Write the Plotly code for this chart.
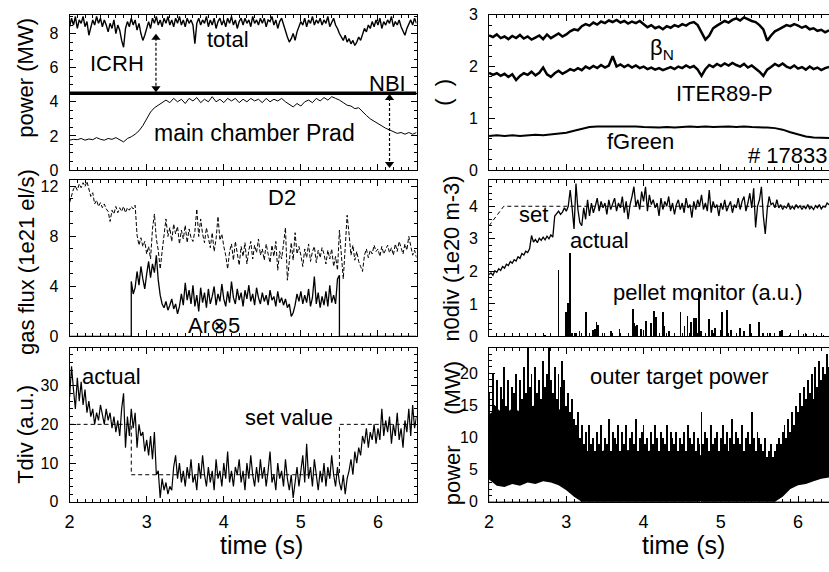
import numpy as np
import plotly.graph_objects as go

# ---------------- data ----------------
DT_FINE = 0.025
DT_MID = 0.05
DT_COARSE = 0.1
T_START = 2.0

# top-left: heating / radiated power (MW)
total_power = [8.4, 8.9, 8.5, 9.0, 8.3, 8.8, 8.6, 9.0, 8.4, 8.7,
               7.9, 8.3, 8.8, 8.5, 9.0, 8.6, 8.9, 8.4, 8.8, 8.5,
               8.1, 8.6, 8.3, 8.8, 8.0, 8.5, 8.2, 7.6, 7.2, 8.3,
               8.7, 8.4, 8.9, 8.5, 8.8, 8.2, 8.6, 8.0, 7.6, 7.9,
               8.4, 8.7, 8.3, 8.9, 8.6, 9.0, 8.5, 8.8, 8.4, 8.9,
               8.6, 9.0, 8.5, 8.8, 8.4, 8.9, 8.6, 9.0, 8.5, 8.8,
               8.4, 8.9, 8.6, 8.8, 8.5, 7.4, 8.6, 8.9, 8.5, 8.8,
               8.6, 9.0, 8.4, 8.8, 8.5, 8.9, 8.3, 8.7, 8.9, 8.5,
               8.8, 8.4, 8.9, 8.6, 9.0, 8.5, 8.8, 8.3, 8.7, 8.9,
               8.5, 8.9, 8.6, 8.8, 8.4, 9.0, 8.6, 8.8, 8.5, 8.9,
               8.6, 8.9, 8.4, 8.8, 8.7, 9.0, 8.5, 8.8, 8.3, 8.7,
               8.9, 8.5, 8.2, 7.8, 7.5, 7.7, 8.0, 7.6, 8.1, 8.4,
               8.7, 8.5, 8.9, 8.4, 8.8, 8.6, 9.0, 8.5, 8.8, 8.6,
               8.9, 8.5, 8.8, 8.6, 9.0, 8.4, 8.7, 8.9, 8.5, 8.3,
               8.0, 7.8, 7.6, 7.9, 7.5, 7.7, 7.4, 7.6, 7.3, 7.5,
               7.8, 7.6, 8.0, 8.3, 8.1, 8.5, 8.3, 8.7, 8.4, 8.8,
               8.5, 8.9, 8.3, 8.7, 8.5, 8.8, 8.6, 9.0, 8.4, 8.7,
               8.5, 8.8, 8.4, 8.1, 7.9, 8.3, 8.6, 8.8, 8.5, 8.9,
               8.6]
nbi_time = [2.0, 6.5]
nbi_power = [4.5, 4.5]
prad_main = [1.75, 1.80, 1.78, 1.85, 1.75, 1.82, 1.78, 1.90, 1.80, 1.75,
             1.85, 1.80, 1.90, 1.75, 1.65, 1.85, 1.95, 2.10, 2.30, 2.60,
             3.00, 3.40, 3.65, 3.80, 3.95, 4.10, 3.95, 4.20, 4.00, 4.15,
             3.90, 4.20, 4.05, 4.25, 3.95, 4.15, 4.00, 4.30, 4.00, 4.15,
             3.95, 4.20, 4.05, 4.20, 3.95, 4.15, 4.00, 4.20, 4.05, 4.15,
             3.95, 4.20, 4.00, 4.15, 4.05, 4.20, 4.00, 3.85, 3.70, 3.90,
             3.75, 4.00, 4.10, 3.95, 4.20, 4.05, 4.25, 4.10, 4.30, 4.20,
             4.10, 3.95, 3.80, 3.75, 3.60, 3.65, 3.40, 3.20, 3.00, 2.85,
             2.70, 2.55, 2.45, 2.35, 2.25, 2.15, 2.20, 2.10, 2.20, 2.10,
             2.20]
# arrow marks: time, upper end, lower end
icrh_arrow = dict(t=3.12, top=7.75, bottom=4.8)
nbi_arrow = dict(t=6.15, top=4.22, bottom=0.35)

# middle-left: gas flux (1e21 el/s)
d2_flux = [10.7, 11.3, 11.8, 12.0, 11.7, 12.2, 11.9, 12.3, 12.0, 12.4,
           11.8, 11.2, 11.5, 10.6, 10.9, 10.4, 10.7, 10.3, 10.6, 10.2,
           10.0, 9.2, 10.1, 9.8, 10.4, 9.9, 10.3, 10.0, 10.4, 9.9,
           10.3, 10.1, 10.4, 10.2, 10.5, 8.1, 7.3, 7.9, 7.2, 7.6,
           6.6, 7.2, 6.2, 8.6, 9.8, 7.8, 6.9, 5.4, 6.8, 8.4,
           9.4, 8.0, 8.7, 7.6, 9.0, 8.2, 8.8, 7.4, 8.5, 7.8,
           8.9, 7.5, 8.6, 7.9, 7.6, 8.4, 10.2, 8.0, 9.4, 8.2,
           7.5, 8.7, 8.0, 7.1, 8.3, 6.8, 7.8, 9.6, 7.7, 8.2,
           7.2, 6.5, 5.4, 6.8, 7.4, 6.1, 7.6, 6.6, 5.7, 7.2,
           6.4, 7.5, 5.8, 6.9, 7.6, 6.2, 7.3, 6.7, 7.8, 6.5,
           7.0, 6.1, 7.4, 6.6, 5.9, 7.3, 6.4, 7.6, 5.3, 6.8,
           6.2, 7.4, 8.7, 4.5, 6.3, 7.5, 6.1, 8.3, 6.6, 7.2,
           6.5, 5.6, 7.0, 6.3, 7.4, 6.0, 6.8, 7.2, 5.9, 6.9,
           6.3, 7.1, 6.6, 5.8, 6.9, 6.2, 7.0, 5.6, 6.4, 5.3,
           8.5, 6.2, 4.6, 7.1, 9.7, 8.2, 6.5, 7.3, 6.1, 6.8,
           6.0, 5.6, 5.2, 6.5, 7.0, 6.3, 6.9, 6.6, 7.3, 6.8,
           7.0, 6.4, 7.2, 6.6, 6.9, 7.3, 6.7, 7.1, 6.5, 7.4,
           6.8, 7.6, 7.1, 6.6, 7.4, 6.9, 8.0, 7.3, 6.5, 6.9,
           6.3]
ar_on_time = 2.8
ar_off_time = 5.5
ar_flux_x5 = [4.4, 3.4, 3.9, 5.2, 4.1, 5.6, 4.6, 3.8, 5.0, 6.0,
              4.7, 5.8, 5.1, 6.5, 4.5, 3.3, 2.6, 2.3, 2.8, 2.1,
              2.5, 3.0, 2.2, 2.6, 1.8, 2.4, 3.4, 2.5, 4.3, 2.9,
              3.7, 2.6, 4.1, 2.4, 3.3, 2.0, 3.9, 2.7, 3.5, 2.3,
              3.8, 2.6, 3.2, 4.0, 2.5, 3.4, 2.8, 4.2, 3.0, 2.4,
              3.6, 2.7, 4.4, 3.1, 2.6, 3.8, 2.9, 3.5, 2.4, 3.7,
              3.0, 4.1, 2.8, 3.4, 2.5, 3.9, 3.1, 2.6, 3.5, 2.8,
              3.3, 2.5, 3.7, 2.9, 3.2, 2.4, 3.6, 2.7, 3.1, 2.5,
              3.0, 2.3, 2.6, 1.6, 1.9, 2.5, 3.4, 2.8, 3.6, 2.6,
              3.3, 2.7, 3.8, 2.4, 3.1, 4.8, 2.6, 3.5, 2.3, 3.2,
              2.5, 3.6, 2.4, 4.1, 2.7, 3.3, 2.6, 4.6,
              4.9]

# bottom-left: Tdiv (a.u.)
tdiv_actual = [27, 35, 29, 24, 32, 26, 31, 25, 29, 23,
               26, 22, 24, 20, 23, 21, 25, 22, 20, 24,
               21, 23, 19, 22, 18, 21, 17, 24, 28, 14,
               22, 17, 24, 19, 23, 14, 20, 17, 18, 13,
               16, 12, 17, 11, 18, 7, 8, 1, 6, 3,
               5, 2, 4, 3, 9, 12, 6, 10, 5, 8,
               4, 9, 6, 11, 5, 7, 3, 10, 6, 12,
               7, 4, 9, 5, 8, 3, 11, 6, 8, 4,
               10, 6, 13, 5, 8, 4, 9, 7, 11, 5,
               8, 3, 10, 6, 12, 7, 4, 9, 5, 11,
               6, 9, 4, 8, 13, 5, 7, 3, 10, 6,
               8, 4, 11, 6, 3, 7, 1, 5, 9, 4,
               8, 12, 5, 15, 6, 9, 4, 11, 7, 3,
               8, 5, 10, 4, 9, 6, 12, 7, 4, 9,
               5, 3, 7, 2, 6, 8, 11, 7, 13, 10,
               14, 12, 17, 15, 19, 14, 18, 16, 20, 15,
               19, 16, 24, 17, 21, 18, 22, 15, 20, 17,
               23, 16, 19, 14, 21, 18, 24, 17, 25, 19,
               22]
tdiv_set_time = [2.0, 2.8, 2.8, 5.5, 5.5, 6.5]
tdiv_set = [20, 20, 7, 7, 20, 20]

# top-right: dimensionless quantities
beta_n = [2.60, 2.57, 2.62, 2.55, 2.58, 2.53, 2.59, 2.55, 2.61, 2.54,
          2.58, 2.52, 2.56, 2.60, 2.53, 2.62, 2.55, 2.59, 2.64, 2.58,
          2.62, 2.68, 2.72, 2.70, 2.78, 2.82, 2.79, 2.85, 2.81, 2.87,
          2.84, 2.89, 2.86, 2.90, 2.85, 2.88, 2.83, 2.87, 2.84, 2.88,
          2.82, 2.76, 2.80, 2.74, 2.77, 2.72, 2.78, 2.75, 2.80, 2.77,
          2.82, 2.79, 2.84, 2.86, 2.80, 2.65, 2.52, 2.60, 2.74, 2.79,
          2.84, 2.88, 2.85, 2.90, 2.93, 2.89, 2.95, 2.91, 2.88, 2.86,
          2.80, 2.72, 2.50, 2.60, 2.68, 2.72, 2.76, 2.80, 2.78, 2.82,
          2.79, 2.75, 2.78, 2.72, 2.74, 2.69, 2.71, 2.66, 2.70]
iter89p = [1.88, 1.84, 1.87, 1.82, 1.86, 1.80, 1.85, 1.74, 1.82, 1.87,
           1.84, 1.90, 1.83, 1.88, 1.98, 1.85, 1.80, 1.87, 1.92, 1.86,
           1.90, 1.95, 1.92, 1.97, 1.93, 2.00, 1.96, 2.01, 1.97, 2.03,
           1.98, 2.02, 2.20, 2.00, 2.04, 1.99, 2.03, 1.98, 2.02, 1.97,
           2.00, 1.95, 1.98, 1.94, 1.97, 1.93, 1.96, 1.99, 1.95, 2.00,
           1.97, 2.02, 1.98, 2.01, 1.94, 1.82, 1.95, 2.03, 1.99, 2.05,
           2.01, 2.06, 2.02, 2.07, 2.03, 2.00, 2.05, 1.98, 2.02, 1.96,
           1.90, 1.82, 1.94, 1.99, 2.05, 2.01, 2.06, 2.00, 1.97, 2.02,
           1.96, 1.99, 1.94, 2.00, 1.95, 1.98, 1.93, 1.97, 1.99]
f_green = [0.66, 0.67, 0.66, 0.67, 0.66, 0.67, 0.68, 0.67, 0.69, 0.70,
           0.72, 0.76, 0.80, 0.83, 0.84, 0.84, 0.85, 0.84, 0.85, 0.84,
           0.83, 0.82, 0.82, 0.83, 0.82, 0.83, 0.84, 0.83, 0.84, 0.83,
           0.84, 0.84, 0.83, 0.84, 0.83, 0.83, 0.82, 0.81, 0.78, 0.73,
           0.69, 0.65, 0.63, 0.62, 0.62]

# middle-right: divertor neutral density (1e20 m-3) and pellet monitor
n0div_actual = [1.90, 1.95, 1.88, 2.02, 1.97, 2.08, 2.03, 2.15, 2.10, 2.22,
                2.18, 2.30, 2.25, 2.36, 2.32, 2.45, 2.40, 2.55, 2.50, 2.62,
                2.58, 2.70, 3.10, 2.90, 2.98, 2.88, 3.02, 2.95, 3.05, 2.97,
                3.08, 3.00, 3.12, 3.05, 3.70, 3.78, 3.85, 3.75, 3.82, 3.95,
                3.85, 4.00, 4.50, 3.95, 3.30, 4.70, 3.90, 3.50, 3.40, 3.95,
                3.60, 4.20, 3.70, 4.10, 3.80, 4.00, 4.25, 3.85, 4.15, 3.95,
                4.10, 3.75, 4.20, 3.90, 4.05, 4.25, 3.85, 4.10, 3.95, 4.30,
                3.80, 4.15, 3.60, 4.05, 4.30, 4.60, 4.00, 4.20, 3.90, 4.45,
                4.15, 4.60, 3.85, 4.35, 4.05, 4.20, 3.95, 4.10, 3.70, 4.25,
                3.90, 4.15, 4.00, 4.30, 3.85, 4.10, 3.75, 4.05, 4.20, 3.90,
                4.10, 3.80, 4.25, 3.95, 4.05, 3.65, 4.15, 3.90, 4.20, 4.00,
                4.35, 3.90, 4.10, 3.85, 4.50, 3.80, 4.15, 3.95, 4.05, 3.70,
                4.10, 3.90, 4.20, 3.85, 4.00, 4.15, 3.80, 4.05, 3.95, 4.25,
                3.90, 4.15, 4.30, 3.85, 4.10, 4.40, 3.95, 4.55, 3.35, 4.00,
                4.20, 4.60, 3.70, 3.15, 3.90, 4.30, 4.05, 4.10, 3.95, 4.20,
                3.95, 4.05, 3.90, 4.00, 3.95, 4.10, 3.90, 4.00, 3.92, 4.05,
                3.95, 4.02, 3.90, 4.00, 3.93, 4.05, 3.92, 3.98, 3.90, 4.02,
                3.95, 4.05, 3.92, 4.00, 3.97, 4.10, 4.05]
n0div_set_time = [2.0, 2.19, 6.4]
n0div_set = [3.4, 4.0, 4.0]
pellet_time = [2.72, 2.90, 3.00, 3.02, 3.05, 3.07, 3.13, 3.17, 3.26, 3.35,
               3.37, 3.39, 3.41, 3.47, 3.58, 3.69, 3.86, 3.88, 3.90, 3.92,
               3.97, 4.03, 4.10, 4.14, 4.16, 4.25, 4.27, 4.33, 4.40, 4.48,
               4.53, 4.57, 4.61, 4.65, 4.68, 4.72, 4.74, 4.85, 4.89, 4.93,
               5.02, 5.08, 5.13, 5.25, 5.30, 5.38, 5.49, 5.55, 5.64, 5.77,
               5.79, 5.90, 6.07, 6.11, 6.24, 6.33]
pellet_signal = [0.05, 2.02, 0.73, 1.02, 2.57, 0.10, 0.10, 0.15, 0.75, 0.20,
                 0.23, 0.43, 0.33, 0.10, 0.15, 0.23, 0.83, 0.40, 0.30, 0.35,
                 0.23, 0.48, 0.40, 0.78, 0.60, 0.73, 0.30, 0.15, 0.05, 0.73,
                 0.30, 0.63, 0.45, 0.55, 0.55, 1.35, 0.15, 0.53, 0.20, 0.25,
                 0.73, 0.80, 0.20, 0.25, 0.15, 0.38, 0.43, 0.10, 0.10, 0.15,
                 0.20, 0.05, 0.08, 0.08, 0.05, 0.04]

# bottom-right: outer target power (MW)
# spike tops (fine time base), dense body level and lower edge (coarse time base)
target_spikes = [17, 13, 20, 15, 19, 14, 18, 16, 21, 15,
                 19, 14, 18, 17, 20, 13, 19, 16, 21, 17,
                 24, 18, 20, 15, 21, 17, 19, 16, 22, 18,
                 20, 24, 19, 17, 21, 16, 20, 18, 22, 19,
                 15, 17, 14, 16, 13, 12, 14, 10, 12, 9,
                 11, 8, 12, 9, 10, 8, 11, 9, 12, 8,
                 10, 9, 13, 8, 11, 10, 9, 12, 8, 11,
                 9, 12, 8, 10, 11, 9, 13, 8, 10, 11,
                 12, 9, 10, 8, 11, 9, 12, 10, 8, 11,
                 10, 9, 12, 8, 11, 10, 9, 11, 8, 10,
                 9, 11, 8, 12, 10, 9, 11, 8, 10, 9,
                 14, 9, 11, 10, 8, 12, 9, 10, 11, 8,
                 10, 12, 9, 11, 8, 10, 13, 9, 11, 10,
                 9, 12, 8, 10, 11, 9, 14, 10, 8, 11,
                 10, 9, 8, 10, 7, 8, 9, 7, 8, 9,
                 10, 9, 11, 12, 10, 13, 11, 14, 12, 15,
                 14, 17, 15, 18, 16, 19, 17, 20, 16, 21,
                 18, 22, 19, 21, 20, 23, 21]
target_body = [13.5, 14.5, 13.5, 14.5, 14.0, 14.5, 15.0, 14.5, 15.5, 14.5,
               12.5, 10.5, 8.0, 7.5, 7.5, 8.0, 7.5, 7.5, 8.0, 7.5,
               7.5, 8.0, 7.5, 7.0, 7.5, 7.0, 7.5, 7.0, 7.5, 7.0,
               7.5, 7.0, 7.5, 7.0, 7.0, 6.5, 6.0, 6.0, 7.5, 9.5,
               11.5, 12.5, 13.5, 14.5, 15.0]
target_lower = [3.5, 2.5, 2.3, 2.8, 2.5, 3.0, 2.8, 3.2, 3.0, 2.6,
                1.8, 0.8, 0.0, 0.0, 0.0, 0.0, 0.0, 0.0, 0.0, 0.0,
                0.0, 0.0, 0.0, 0.0, 0.0, 0.0, 0.0, 0.0, 0.0, 0.0,
                0.0, 0.0, 0.0, 0.0, 0.0, 0.0, 0.0, 0.0, 0.8, 2.0,
                2.6, 2.8, 3.2, 3.6, 3.8]


def tbase(values, dt, t0=T_START):
    return np.round(t0 + dt * np.arange(len(values)), 4)


FONT = "Liberation Sans, Arial, Helvetica, sans-serif"
BLACK = "black"

fig = go.Figure()

# ---- top-left
fig.add_trace(go.Scatter(x=tbase(total_power, DT_FINE), y=total_power, mode="lines",
                         line=dict(color=BLACK, width=1.4), xaxis="x", yaxis="y"))
fig.add_trace(go.Scatter(x=nbi_time, y=nbi_power, mode="lines",
                         line=dict(color=BLACK, width=3.5), xaxis="x", yaxis="y"))
fig.add_trace(go.Scatter(x=tbase(prad_main, DT_MID), y=prad_main, mode="lines",
                         line=dict(color=BLACK, width=1), xaxis="x", yaxis="y"))

# ---- middle-left
fig.add_trace(go.Scatter(x=tbase(d2_flux, DT_FINE), y=d2_flux, mode="lines",
                         line=dict(color=BLACK, width=1, dash="4px,2px"), xaxis="x2", yaxis="y2"))
ar_t = list(tbase(ar_flux_x5, DT_FINE, ar_on_time))
ar_x = [T_START, ar_on_time] + ar_t + [ar_off_time, 6.5]
ar_y = [0, 0] + ar_flux_x5 + [0, 0]
fig.add_trace(go.Scatter(x=ar_x, y=ar_y, mode="lines",
                         line=dict(color=BLACK, width=1.3), xaxis="x2", yaxis="y2"))

# ---- bottom-left
fig.add_trace(go.Scatter(x=tdiv_set_time, y=tdiv_set, mode="lines",
                         line=dict(color=BLACK, width=1, dash="4px,3px"), xaxis="x3", yaxis="y3"))
fig.add_trace(go.Scatter(x=tbase(tdiv_actual, DT_FINE), y=tdiv_actual, mode="lines",
                         line=dict(color=BLACK, width=1.2), xaxis="x3", yaxis="y3"))

# ---- top-right
fig.add_trace(go.Scatter(x=tbase(beta_n, DT_MID), y=beta_n, mode="lines",
                         line=dict(color=BLACK, width=2.5), xaxis="x4", yaxis="y4"))
fig.add_trace(go.Scatter(x=tbase(iter89p, DT_MID), y=iter89p, mode="lines",
                         line=dict(color=BLACK, width=2.5), xaxis="x4", yaxis="y4"))
fig.add_trace(go.Scatter(x=tbase(f_green, DT_COARSE), y=f_green, mode="lines",
                         line=dict(color=BLACK, width=2), xaxis="x4", yaxis="y4"))

# ---- middle-right
fig.add_trace(go.Bar(x=pellet_time, y=pellet_signal, width=0.01,
                     marker=dict(color=BLACK, line=dict(width=0)), xaxis="x5", yaxis="y5"))
fig.add_trace(go.Scatter(x=n0div_set_time, y=n0div_set, mode="lines",
                         line=dict(color=BLACK, width=1, dash="4px,3px"), xaxis="x5", yaxis="y5"))
fig.add_trace(go.Scatter(x=tbase(n0div_actual, DT_FINE), y=n0div_actual, mode="lines",
                         line=dict(color=BLACK, width=1.3), xaxis="x5", yaxis="y5"))

# ---- bottom-right
fig.add_trace(go.Bar(x=tbase(target_spikes, DT_FINE), y=target_spikes, width=0.012,
                     marker=dict(color=BLACK, line=dict(width=0)), xaxis="x6", yaxis="y6"))
fig.add_trace(go.Scatter(x=tbase(target_body, DT_COARSE), y=target_body, mode="lines",
                         fill="tozeroy", fillcolor=BLACK,
                         line=dict(color=BLACK, width=1), xaxis="x6", yaxis="y6"))
fig.add_trace(go.Scatter(x=tbase(target_lower, DT_COARSE), y=target_lower, mode="lines",
                         fill="tozeroy", fillcolor="white",
                         line=dict(color="white", width=0), xaxis="x6", yaxis="y6"))

# ---------------- axes ----------------
W, H = 829, 572
LEFT = [65 / W, 414 / W]
RIGHT = [487 / W, 1.0]
ROWS = [[1 - 167 / H, 1 - 7 / H], [1 - 338.5 / H, 1 - 177.5 / H], [1 - 509 / H, 1 - 350 / H]]


def xax(domain, rng, anchor, labels):
    return dict(domain=domain, range=rng, anchor=anchor, showline=True, linecolor=BLACK,
                linewidth=1, mirror="ticks", ticks="inside", ticklen=6, tickwidth=1,
                tickcolor=BLACK, tick0=2, dtick=1, showgrid=False, zeroline=False,
                showticklabels=labels, tickfont=dict(size=18, color=BLACK),
                ticklabelstandoff=4, layer="above traces",
                minor=dict(dtick=0.1, ticks="inside", ticklen=3, tickcolor=BLACK, showgrid=False))


def yax(domain, rng, anchor, dtick, minor, mirror=True):
    return dict(domain=domain, range=rng, anchor=anchor, showline=True, linecolor=BLACK,
                linewidth=1, mirror="ticks" if mirror else False, ticks="inside", ticklen=6,
                tickwidth=1, tickcolor=BLACK, tick0=0, dtick=dtick, showgrid=False,
                zeroline=False, tickfont=dict(size=16, color=BLACK), ticklabelstandoff=7,
                layer="above traces",
                minor=dict(dtick=minor, ticks="inside", ticklen=3, tickcolor=BLACK, showgrid=False))


layout = dict(
    width=W, height=H, margin=dict(l=0, r=0, t=0, b=0), autosize=False,
    paper_bgcolor="white", plot_bgcolor="white", showlegend=False,
    font=dict(family=FONT, color=BLACK),
    bargap=0,
    xaxis=xax(LEFT, [2, 6.5], "y", False),
    xaxis2=xax(LEFT, [2, 6.5], "y2", False),
    xaxis3=xax(LEFT, [2, 6.5], "y3", True),
    xaxis4=xax(RIGHT, [2, 6.4], "y4", False),
    xaxis5=xax(RIGHT, [2, 6.4], "y5", False),
    xaxis6=xax(RIGHT, [2, 6.4], "y6", True),
    yaxis=yax(ROWS[0], [0, 9.1], "x", 2, 0.5),
    yaxis2=yax(ROWS[1], [0, 12.5], "x2", 4, 1),
    yaxis3=yax(ROWS[2], [0, 39.8], "x3", 10, 2),
    yaxis4=yax(ROWS[0], [0, 3.0], "x4", 1, 0.2, mirror=False),
    yaxis5=yax(ROWS[1], [0, 4.8], "x5", 1, 0.2, mirror=False),
    yaxis6=yax(ROWS[2], [0, 24], "x6", 5, 1, mirror=False),
)
fig.update_layout(**layout)

# ---------------- labels ----------------
LBL = 22


def label(text, x, y, xref, yref, xanchor="center", size=LBL):
    fig.add_annotation(text=text, x=x, y=y, xref=xref, yref=yref, showarrow=False,
                       xanchor=xanchor, yanchor="middle", font=dict(size=size, color=BLACK))


label("total", 4.06, 7.66, "x", "y")
label("ICRH", 2.62, 6.24, "x", "y")
label("NBI", 6.13, 5.1, "x", "y")
label("main chamber Prad", 4.40, 2.2, "x", "y", size=23)
label("D2", 4.75, 11.1, "x2", "y2")
label("Ar\u22975", 3.87, 0.9, "x2", "y2")
label("actual", 2.54, 32.3, "x3", "y3")
label("set value", 4.84, 21.8, "x3", "y3")
label("\u03b2<sub>N</sub>", 4.24, 2.33, "x4", "y4")
label("ITER89-P", 5.05, 1.48, "x4", "y4")
label("fGreen", 3.96, 0.56, "x4", "y4")
label("# 17833", 5.32, 0.28, "x4", "y4", xanchor="left")
label("set", 2.58, 3.75, "x5", "y5")
label("actual", 3.43, 2.94, "x5", "y5")
label("pellet monitor (a.u.)", 4.84, 1.36, "x5", "y5")
label("outer target power", 4.46, 19.5, "x6", "y6")

# dashed double-headed arrows (ICRH, NBI)
for arr in (icrh_arrow, nbi_arrow):
    fig.add_trace(go.Scatter(x=[arr["t"], arr["t"]], y=[arr["top"], arr["bottom"]],
                             mode="lines", line=dict(color=BLACK, width=1.2, dash="3px,2px"),
                             xaxis="x", yaxis="y"))
    fig.add_trace(go.Scatter(x=[arr["t"], arr["t"]], y=[arr["top"], arr["bottom"]],
                             mode="markers",
                             marker=dict(symbol=["triangle-up", "triangle-down"], size=8,
                                         color=BLACK, line=dict(width=0)),
                             xaxis="x", yaxis="y"))

# axis titles
TITLE = 22


def ytitle(text, xpx, ypx):
    fig.add_annotation(text=text, x=xpx / W, y=1 - ypx / H, xref="paper", yref="paper",
                       showarrow=False, textangle=-90, xanchor="center", yanchor="middle",
                       font=dict(size=TITLE, color=BLACK))


ytitle("power (MW)", 21, 72)
ytitle("gas flux (1e21 el/s)", 21, 262)
ytitle("Tdiv (a.u.)", 21, 439)
ytitle("(\u00a0\u00a0)", 441, 87)
ytitle("n0div (1e20 m-3)", 449, 258)
ytitle("power\u00a0\u00a0\u00a0\u00a0\u00a0(MW)", 451, 438)

for xc in (258, 683):
    fig.add_annotation(text="time (s)", x=xc / W, y=1 - 553 / H, xref="paper", yref="paper",
                       showarrow=False, xanchor="center", yanchor="middle",
                       font=dict(size=25, color=BLACK))

fig.write_html("out.html", config={"displayModeBar": False},
               post_script="document.body.style.margin='0';document.body.style.padding='0';")
